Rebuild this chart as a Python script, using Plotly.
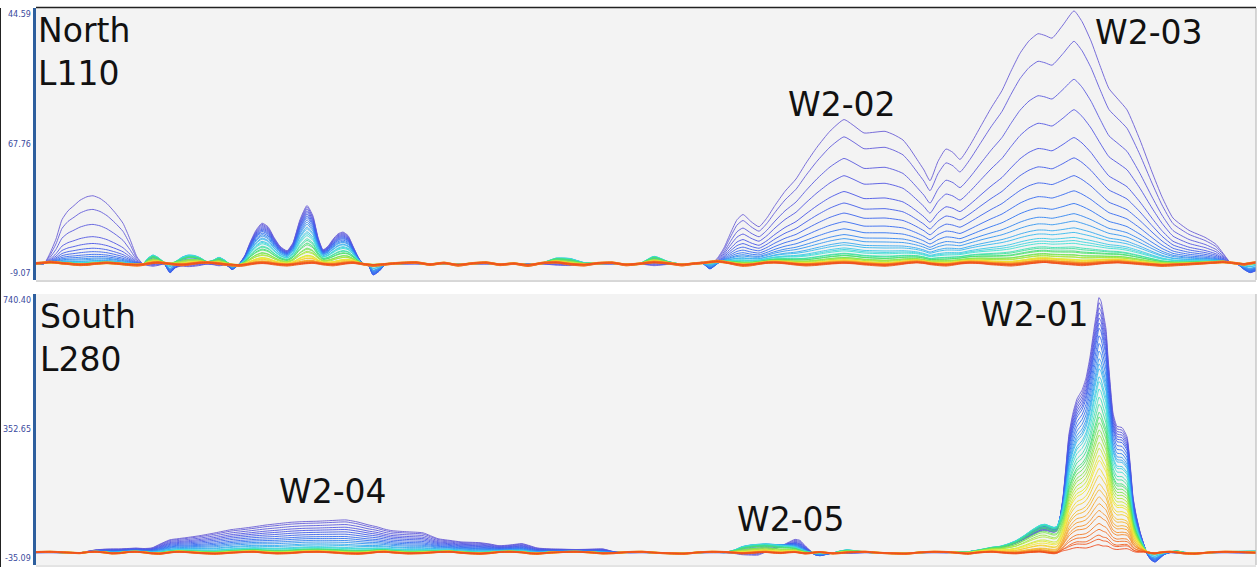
import numpy as np
import plotly.graph_objects as go
import plotly.colors as pc

W, H = 1258, 567
N_CH = 40

# ---------------- TOP PANEL (North L110) ----------------
T_X = [36, 44, 50, 56, 62, 68, 74, 80, 87, 93, 100, 107, 115, 123, 130, 137, 143, 148, 153, 158,
       164, 170, 176, 182, 188, 194, 200, 207, 213, 219, 225, 232, 239, 245, 250, 256, 262, 268, 274, 280,
       287, 293, 300, 307, 313, 318, 323, 328, 333, 338, 343, 348, 353, 358, 363, 368, 373, 379, 386, 394, 402,
       416, 430, 444, 458, 472, 486, 500, 514, 528, 542, 556, 570, 584, 598, 612, 626, 640, 654, 668, 682, 694,
       702, 710, 717, 724, 731, 737, 743, 751, 759, 767, 775, 785, 796, 806, 817, 830, 844, 854, 864, 875,
       885, 894, 903, 910, 917, 924, 930, 938, 946, 953, 960, 970, 981, 991, 1002, 1011, 1020, 1029, 1038, 1045,
       1052, 1063, 1074, 1082, 1091, 1100, 1109, 1118, 1127, 1140, 1152, 1162, 1173, 1189, 1205, 1216, 1223, 1230,
       1237, 1244, 1250, 1256]

# first-channel amplitudes of each anomaly
P1_X = [44, 50, 56, 62, 68, 74, 80, 87, 93, 100, 107, 115, 123, 130, 137, 143]
P1_V = [0, 6, 14, 25, 30, 33, 36, 38, 38.5, 37, 34, 29, 23, 14, 4, 0]

P3_X = [239, 245, 250, 256, 262, 268, 274, 280, 287, 293, 300, 307, 313, 318, 323, 328, 333, 338, 343, 348, 353, 358, 363]
P3_V = [0, 5, 12, 19, 23, 21, 15, 10, 7.5, 12, 25, 33, 27, 15, 8, 10, 14, 17, 18, 16, 10, 4, 0]

S_X = [143, 148, 153, 158, 164, 170, 176, 182, 188, 194, 200, 207, 213, 219, 225, 232,
       542, 556, 570, 584, 598, 640, 654, 668, 682]
S_V = [0, 3, 4.5, 3, 0.5, 0, 2, 4, 5, 4.5, 3, 0.5, 1.5, 3.5, 2, 0,
       0, 2.5, 3, 1, 0, 0, 3.5, 1, 0]

NEG_X = [164, 170, 176, 232, 239, 368, 373, 379, 386, 702, 710, 717, 724, 1237, 1244, 1250, 1256]
NEG_V = [0, -5, -2, -3, 0, 0, -6, -4, 0, 0, -4, -2, 0, 0, -3, -5, -4]

W23_X = [702, 710, 717, 724, 731, 737, 743, 751, 759, 767, 775, 785, 796, 806, 817, 830, 844, 854, 864, 875,
         885, 894, 903, 910, 917, 924, 930, 938, 946, 953, 960, 970, 981, 991, 1002, 1011, 1020, 1029, 1038, 1045,
         1052, 1063, 1074, 1082, 1091, 1100, 1109, 1118, 1127, 1140, 1152, 1162, 1173, 1189, 1205, 1216, 1223, 1230, 1237]
W23_V = [1, 2, 4, 9, 18, 25, 28, 24, 21, 26, 33, 41, 48, 57, 66, 75, 81.5, 78, 74, 74.5,
         75, 73, 70, 65, 59, 53, 47, 58, 65, 63, 59, 67, 78, 88, 98, 109, 119, 126, 130, 129,
         127.5, 135, 143, 137, 126, 112, 99, 93, 87, 70, 52, 38, 26, 19, 15, 11, 6, 1, 0]

T_NOISE = [0.5, 1.0, 1.5, 1.2, 0.6, 0.2, -0.3, -0.6, -0.4, 0.1,
           0.6, 0.9, 0.5, -0.1, -0.6, -0.9, -0.5, 0.2, 0.8, 1.1,
           0.7, 0.1, -0.5, -0.8, -0.4, 0.3, 0.9, 1.2, 0.8, 0.2,
           -0.4, -0.9, -1.2, -0.8, -0.2, 0.4, 0.7, 0.4, -0.2, -0.7,
           -1.0, -0.6, 0.0, 0.5, 0.8, 0.4, -0.2, -0.6, -0.9, -0.5,
           0.1, 0.6, 0.9, 0.5, -0.1, -0.7, -1.1, -0.8, -0.2, 0.4, 0.8,
           1.2, -0.5, 0.8, -1.0, 0.4, 1.1, -0.6, 0.3, -1.2, 0.7,
           1.3, -0.2, -0.9, 0.6, 1.0, -0.7, 0.2, 1.4, 0.5, -0.8, 0.3,
           0.8, 1.6, 2.2, 1.5, 0.4, -0.6, -1.2, -0.8, 0.2, 1.0,
           1.2, 0.6, -0.4, -1.0, -0.6, 0.3, 0.9, 0.5, -0.3, -0.9,
           -1.3, -0.7, 0.2, 0.9, 1.3, 0.8, 0.0, -0.7, -1.1, -0.5,
           0.4, 1.0, 0.6, -0.2, -0.8, -1.2, -0.6, 0.3, 1.1, 1.4,
           0.9, 0.1, -0.6, -1.0, -0.5, 0.3, 0.9, 1.2, 0.7, -0.1,
           -0.8, -1.3, -0.9, -0.2, 0.6, 1.2, 1.6, 1.1, 0.4, -0.3, 0.5, 1.2]

D_W23 = [1.00, 0.88, 0.73, 0.61, 0.50, 0.42, 0.35, 0.29, 0.24, 0.20, 0.17, 0.145, 0.125, 0.108, 0.094, 0.082,
         0.071, 0.062, 0.054, 0.047, 0.041, 0.036, 0.031, 0.027, 0.023, 0.020, 0.017, 0.015, 0.013, 0.011,
         0.009, 0.008, 0.007, 0.006, 0.005, 0.004, 0.003, 0.002, 0.001, 0.0]
D_P1 = [1.00, 0.80, 0.58, 0.40, 0.30, 0.23, 0.18, 0.14, 0.11, 0.085, 0.065, 0.05, 0.04, 0.03, 0.024, 0.019,
        0.015, 0.012, 0.009, 0.007, 0.005, 0.004, 0.003, 0.002, 0.001] + [0.0] * 15
D_P3 = [1.0, 0.97, 0.94, 0.91, 0.88, 0.85, 0.82, 0.79, 0.75, 0.71, 0.67, 0.63, 0.59, 0.55, 0.51, 0.47,
        0.43, 0.39, 0.35, 0.31, 0.27, 0.24, 0.21, 0.18, 0.15, 0.13, 0.11, 0.09, 0.075, 0.06, 0.05, 0.04,
        0.032, 0.025, 0.019, 0.014, 0.01, 0.007, 0.004, 0.002]
D_HUMP = [-0.3, -0.2, -0.1, 0.0, 0.2, 0.4, 0.55, 0.7, 0.8, 0.9, 0.95, 1.0, 1.0, 1.0, 1.0, 0.95, 0.9, 0.85,
          0.8, 0.7, 0.6, 0.5, 0.4, 0.35, 0.3, 0.25, 0.2, 0.15, 0.12, 0.1, 0.08, 0.06, 0.05, 0.04, 0.03,
          0.02, 0.015, 0.01, 0.005, 0.0]
D_NEG = [0.6, 0.7, 0.8, 0.9, 1.0, 1.0, 0.95, 0.9, 0.8, 0.7, 0.6, 0.5, 0.4, 0.3, 0.2, 0.15, 0.1, 0.05,
         0.02, 0.0] + [0.0] * 20
W_NOISE = [0.1, 0.15, 0.2, 0.25, 0.3, 0.35, 0.4, 0.45, 0.5, 0.55, 0.6, 0.65, 0.7, 0.75, 0.8, 0.85, 0.9,
           0.95, 1.0, 1.0, 1.1, 0.9, 1.2, 0.8, 1.0, 1.3, 0.9, 1.1, 1.2, 0.8, 1.0, 1.4, 0.9, 1.1, 1.2,
           1.0, 0.8, 1.3, 1.1, 1.0]
CH_OFFSET = [0, 0, 0, 0, 0, 0, 0, 0, 0, 0, 0.2, -0.2, 0.3, -0.3, 0.1, 0.4, -0.4, 0.2, -0.1, 0.5,
             -0.5, 0.3, -0.2, 0.6, -0.6, 0.1, 0.4, -0.3, 0.7, -0.4, 0.2, -0.7, 0.5, -0.1, 0.8, -0.5,
             0.3, -0.8, 0.6, 0.0]
TOP_NOISE_GAIN = 0.6

# ---------------- BOTTOM PANEL (South L280) ----------------
B_X = [36, 50, 65, 80, 88, 96, 104, 112, 120, 128,
       136, 144, 152, 160, 170, 178, 186, 200, 215, 231,
       243, 254, 265, 277, 290, 304, 318, 331, 346, 358,
       368, 377, 385, 392, 408, 423, 438, 450, 461, 471,
       480, 490, 499, 510, 522, 530, 537, 549, 562, 576,
       590, 603, 614, 628, 642, 656, 670, 684, 698, 712,
       726, 735, 742, 750, 758, 766, 774, 781, 788, 795,
       800, 805, 810, 815, 820, 826, 833, 840, 847, 855,
       865, 878, 892, 906, 920, 934, 948, 960, 968, 976,
       984, 992, 1000, 1008, 1016, 1024, 1032, 1040, 1045, 1050,
       1054, 1057, 1060, 1063, 1066, 1069, 1073, 1077, 1082, 1086,
       1090, 1094, 1097, 1099, 1101, 1103, 1106, 1108, 1110, 1113,
       1117, 1122, 1127, 1130, 1133, 1136, 1140, 1144, 1147, 1151,
       1155, 1159, 1164, 1170, 1177, 1184, 1195, 1210, 1225, 1240, 1256]

W4_X = [80, 88, 96, 104, 112, 120, 128, 136, 144, 152, 160, 170, 178, 186, 200, 215, 231,
        243, 254, 265, 277, 290, 304, 318, 331, 346, 358, 368, 377, 385, 392, 408, 423, 438, 450,
        461, 471, 480, 490, 499, 510, 522, 530, 537, 549, 562, 576, 590, 603, 614, 628]
W4_V = [0, 4, 8, 10, 11, 11, 12, 13, 12, 14, 25, 37, 40, 43, 49, 57, 66,
        70, 74, 79, 83, 87, 89, 90, 92, 94, 88, 80, 74, 67, 63, 60, 57, 40, 35,
        31, 30, 29, 25, 20, 22, 26, 20, 14, 11, 10, 9, 10, 11, 3, 0]

W5A_X = [726, 735, 742, 750, 758, 766, 774, 781, 788, 795, 800, 805, 810, 815]
W5A_V = [0, 8, 18, 22, 23, 23, 22, 20, 17, 13, 9, 5, 1, 0]
W5B_X = [758, 766, 774, 781, 788, 795, 800, 805, 810, 815]
W5B_V = [0, 9, 17, 25, 34, 42, 38, 22, 7, 0]

NEGB_X = [810, 815, 820, 826, 833, 1144, 1147, 1151, 1155, 1159, 1164, 1170]
NEGB_V = [0, -6, -9, -5, 0, 0, -8, -20, -26, -18, -6, 0]

SB_X = [833, 840, 847, 855, 865, 1170, 1177, 1184, 1195, 1225, 1240, 1256]
SB_V = [0, 5, 7, 4, 0, 0, 4, 2, 0, 0, 2, 4]

SH_X = [948, 960, 968, 976, 984, 992, 1000, 1008, 1016, 1024, 1032, 1040, 1045, 1050,
        1054, 1057, 1060, 1063, 1066, 1069]
SH_V = [0, 2, 4, 6, 9, 13, 17, 25, 35, 48, 63, 76, 80, 76, 73, 72, 60, 35, 10, 0]

W1_X = [1054, 1057, 1060, 1063, 1066, 1069, 1073, 1077, 1082, 1086, 1090, 1094, 1097, 1099, 1101,
        1103, 1106, 1108, 1110, 1113, 1117, 1122, 1127, 1130, 1133, 1136, 1140, 1144, 1147, 1151]
W1_V = [0, 5, 50, 130, 240, 340, 400, 440, 465, 500, 560, 640, 695, 730, 720,
        690, 640, 560, 490, 400, 362, 358, 332, 258, 160, 110, 60, 22, 5, 0]

B_NOISE = [2, 3, 1, -1, 2, 3, 1, -2, -1, 2,
           3, 1, -2, -3, 1, 3, 2, -1, -3, 0,
           2, 3, 0, -2, -1, 2, 3, 1, -2, -3,
           -1, 2, 3, 1, -2, -1, 2, 3, 0, -2,
           -3, -1, 2, 3, 1, -2, -3, 0, 2, 3,
           1, -2, -1, 2, 3, 0, -2, -3, 1, 3,
           2, 0, -2, -1, 1, 2, 0, -1, 1, 2,
           0, -2, -1, 1, 2, 0, -2, -1, 1, 2,
           3, 0, -2, -3, 1, 3, 2, -1, -3, 0,
           2, 3, 1, -1, -2, 0, 2, 3, 1, -1,
           -2, -1, 1, 2, 0, -1, 1, 2, 0, -2,
           -1, 1, 2, 1, -1, -2, 0, 2, 1, -1,
           -2, 0, 2, 1, -1, -2, 0, 2, 1, -1,
           -2, 0, 2, 3, 1, -2, -3, 1, 3, 2, 0]
BOT_NOISE_GAIN = 0.8

D_W1 = [1.00, 0.98, 0.96, 0.94, 0.92, 0.90, 0.88, 0.85, 0.82, 0.79, 0.76, 0.74, 0.72, 0.69, 0.67, 0.64,
        0.61, 0.58, 0.55, 0.53, 0.51, 0.48, 0.46, 0.43, 0.41, 0.38, 0.36, 0.33, 0.30, 0.27, 0.245, 0.22,
        0.19, 0.165, 0.14, 0.115, 0.09, 0.07, 0.05, 0.03]
D_SH = [0.80, 0.82, 0.84, 0.86, 0.88, 0.9, 0.92, 0.94, 0.96, 0.97, 0.98, 0.99, 1, 1, 1, 1, 0.98, 0.95,
        0.9, 0.84, 0.77, 0.7, 0.62, 0.54, 0.46, 0.39, 0.32, 0.26, 0.21, 0.16, 0.12, 0.09, 0.07, 0.05,
        0.035, 0.025, 0.015, 0.01, 0.005, 0.0]
D_W4 = [1.00, 0.94, 0.86, 0.78, 0.71, 0.64, 0.57, 0.50, 0.44, 0.38, 0.32, 0.27, 0.22, 0.18, 0.15, 0.13,
        0.11, 0.095, 0.08, 0.07, 0.06, 0.05, 0.042, 0.035, 0.03, 0.025, 0.02, 0.016, 0.013, 0.01, 0.008,
        0.006, 0.005, 0.004, 0.003, 0.002, 0.002, 0.001, 0.001, 0.0]
D_W5B = [1.0, 0.9, 0.8, 0.7, 0.6, 0.5, 0.42, 0.34, 0.27, 0.2, 0.14, 0.1, 0.07, 0.05, 0.03, 0.02,
         0.01] + [0.0] * 23

TOP_TICKS = [-9.07, 67.76, 144.59]
TOP_TICK_TEXT = ["-9.07", "67.76", "44.59"]
BOT_TICKS = [-35.09, 352.65, 740.40]
BOT_TICK_TEXT = ["-35.09", "352.65", "740.40"]

LABELS_TOP = [("North<br>L110", 36, 9, "left", "top"), ("W2-02", 842, 104, "center", "middle"),
              ("W2-03", 1149, 33, "center", "middle")]
LABELS_BOT = [("South<br>L280", 38, 295, "left", "top"), ("W2-01", 1035, 314, "center", "middle"),
              ("W2-04", 333, 491, "center", "middle"), ("W2-05", 791, 519, "center", "middle")]


def place(grid, xs, vs):
    idx = {x: i for i, x in enumerate(grid)}
    arr = np.zeros(len(grid))
    for x, v in zip(xs, vs):
        arr[idx[x]] += v
    return arr


top_comps = [(place(T_X, P1_X, P1_V), D_P1), (place(T_X, P3_X, P3_V), D_P3),
             (place(T_X, S_X, S_V), D_HUMP), (place(T_X, NEG_X, NEG_V), D_NEG),
             (place(T_X, W23_X, W23_V), D_W23)]
bot_comps = [(place(B_X, W4_X, W4_V), D_W4), (place(B_X, W5A_X, W5A_V), D_HUMP),
             (place(B_X, W5B_X, W5B_V), D_W5B), (place(B_X, NEGB_X, NEGB_V), D_NEG),
             (place(B_X, SB_X, SB_V), D_HUMP), (place(B_X, SH_X, SH_V), D_SH),
             (place(B_X, W1_X, W1_V), D_W1)]

tn = np.array(T_NOISE) * TOP_NOISE_GAIN
bn = np.array(B_NOISE) * BOT_NOISE_GAIN

scale = [[0.0, "#6b5fd6"], [0.1, "#4a55e6"], [0.2, "#2f6ff2"], [0.3, "#35b5ef"],
         [0.38, "#3fe0d8"], [0.47, "#3ee070"], [0.58, "#a8e83a"], [0.66, "#f2ea30"],
         [0.8, "#f7a52a"], [1.0, "#ee4a1d"]]
colors = pc.sample_colorscale(scale, [i / (N_CH - 1) for i in range(N_CH)])

fig = go.Figure()
for k in range(N_CH):
    y = sum(c * d[k] for c, d in top_comps) + tn * W_NOISE[k] + 0.6 * CH_OFFSET[k]
    fig.add_trace(go.Scatter(x=T_X, y=y, mode="lines", xaxis="x", yaxis="y",
                             line=dict(color=colors[k], width=0.9, shape="spline", smoothing=0.5),
                             hoverinfo="skip", showlegend=False))
for k in range(N_CH):
    y = sum(c * d[k] for c, d in bot_comps) + bn * W_NOISE[k] + 2.0 * CH_OFFSET[k]
    fig.add_trace(go.Scatter(x=B_X, y=y, mode="lines", xaxis="x2", yaxis="y2",
                             line=dict(color=colors[k], width=0.9, shape="spline", smoothing=0.5),
                             hoverinfo="skip", showlegend=False))


def px(x):
    return x / W


def py(y):
    return 1 - y / H


X0, X1 = 36, 1256
T0, T1 = 8, 280
B0, B1 = 294, 565

ax = dict(showgrid=False, zeroline=False, showticklabels=False, ticks="")
fig.update_layout(
    width=W, height=H, margin=dict(l=0, r=0, t=0, b=0),
    paper_bgcolor="white", plot_bgcolor="#f3f3f3",
    xaxis=dict(domain=[px(X0), px(X1)], range=[X0, X1], anchor="y", **ax),
    yaxis=dict(domain=[py(T1), py(T0)], range=[TOP_TICKS[0], TOP_TICKS[-1]], anchor="x",
               showline=True, linecolor="#2e5f9e", linewidth=3, **ax),
    xaxis2=dict(domain=[px(X0), px(X1)], range=[X0, X1], anchor="y2", **ax),
    yaxis2=dict(domain=[py(B1), py(B0)], range=[BOT_TICKS[0], BOT_TICKS[-1]], anchor="x2",
                showline=True, linecolor="#2e5f9e", linewidth=3, **ax),
)

shapes = [
    dict(type="line", xref="paper", yref="paper", x0=px(X0), x1=px(X1), y0=py(T0 - 0.5), y1=py(T0 - 0.5),
         line=dict(color="#222", width=1.5)),
    dict(type="line", xref="paper", yref="paper", x0=px(X0), x1=px(X1), y0=py(T1 + 1), y1=py(T1 + 1),
         line=dict(color="#b0b0b0", width=1)),
    dict(type="line", xref="paper", yref="paper", x0=px(X1), x1=px(X1), y0=py(T1), y1=py(T0),
         line=dict(color="#b0b0b0", width=1)),
    dict(type="line", xref="paper", yref="paper", x0=px(X1), x1=px(X1), y0=py(B1), y1=py(B0),
         line=dict(color="#b0b0b0", width=1)),
    dict(type="line", xref="paper", yref="paper", x0=px(X0), x1=px(X1), y0=py(B1 + 1), y1=py(B1 + 1),
         line=dict(color="#c8c8c8", width=1)),
    dict(type="line", xref="paper", yref="paper", x0=px(0.5), x1=px(0.5), y0=0, y1=py(T0),
         line=dict(color="#222", width=1)),
]
fig.update_layout(shapes=shapes)

ann = []
for v, t in zip(TOP_TICKS, TOP_TICK_TEXT):
    anc = "bottom" if v == TOP_TICKS[0] else ("top" if v == TOP_TICKS[-1] else "middle")
    ann.append(dict(x=px(33), xref="paper", y=v, yref="y", text=t, showarrow=False,
                    xanchor="right", yanchor=anc, font=dict(family="DejaVu Sans", size=8, color="#3a4a9e")))
for v, t in zip(BOT_TICKS, BOT_TICK_TEXT):
    anc = "bottom" if v == BOT_TICKS[0] else ("top" if v == BOT_TICKS[-1] else "middle")
    ann.append(dict(x=px(33), xref="paper", y=v, yref="y2", text=t, showarrow=False,
                    xanchor="right", yanchor=anc, font=dict(family="DejaVu Sans", size=8, color="#3a4a9e")))
for t, x, y, xa, ya in LABELS_TOP + LABELS_BOT:
    ann.append(dict(x=px(x), xref="paper", y=py(y), yref="paper", text=t, showarrow=False,
                    xanchor=xa, yanchor=ya, align="left",
                    font=dict(family="DejaVu Sans", size=33, color="#111")))
fig.update_layout(annotations=ann)

fig.write_html("out.html")
